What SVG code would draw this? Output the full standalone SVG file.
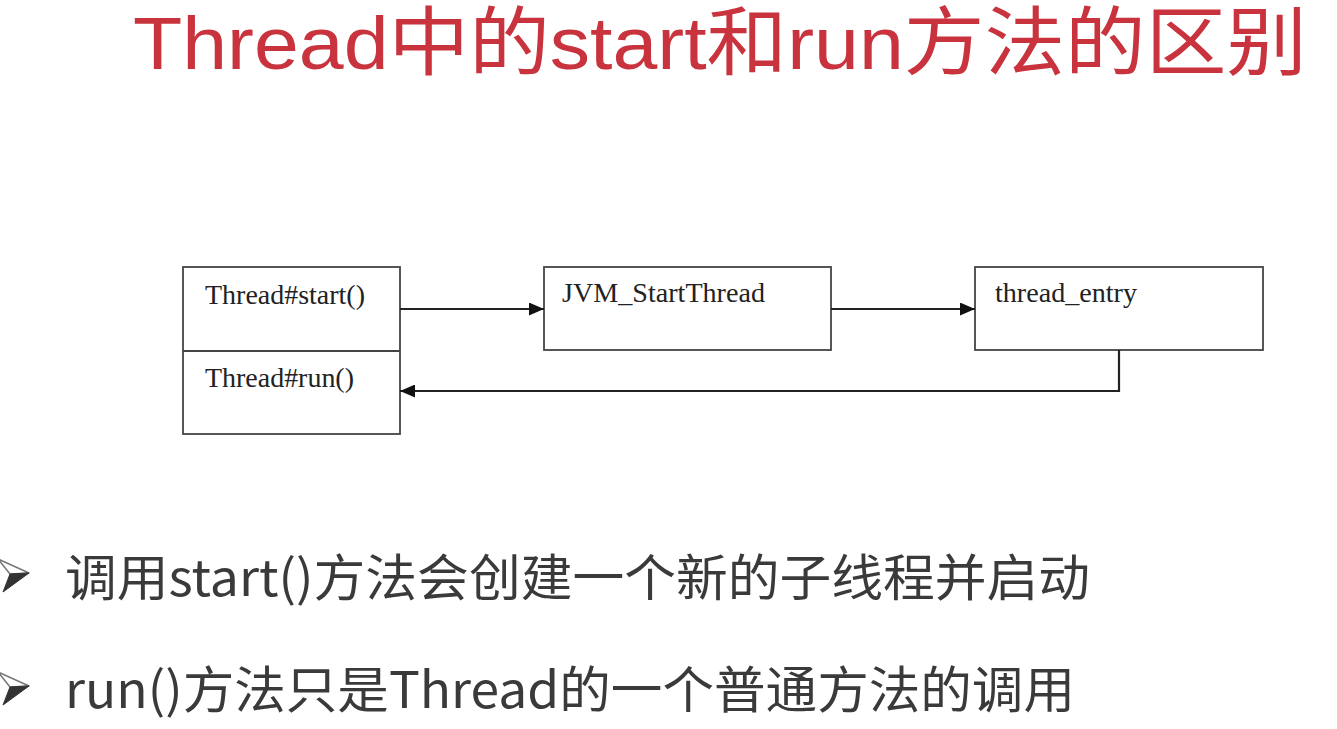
<svg xmlns="http://www.w3.org/2000/svg" width="1337" height="729" viewBox="0 0 1337 729">
<style>
.title{font-family:"Liberation Sans","Noto Sans CJK SC",sans-serif;font-size:75px;fill:#c8333d}
.box{fill:#fff;stroke:#444;stroke-width:1.8}
.lbl{font-family:"Liberation Serif","Noto Sans CJK SC",serif;font-size:27px;fill:#222}
.conn{fill:none;stroke:#222;stroke-width:2.2}
.bul{font-family:"Noto Sans CJK SC","Noto Sans",sans-serif;font-size:50px;fill:#3a3a3a}
.mkw{fill:#fff;stroke:#777;stroke-width:1.5;stroke-linejoin:round}
.mkd{fill:#333;stroke:#333;stroke-width:1}
</style>
<defs>
<marker id="ah" markerWidth="15" markerHeight="13" refX="15" refY="6.5" orient="auto" markerUnits="userSpaceOnUse">
<path d="M0,0 L15,6.5 L0,13 Z" fill="#111"/>
</marker>
<g id="bulletMark">
<polygon class="mkw" points="-2,-14 29,0 10,1"/>
<polygon class="mkd" points="10,1 29,0 3,19"/>
</g>
</defs>
<rect width="1337" height="729" fill="#fff"/>
<text class="title" x="133" y="69" textLength="1174" lengthAdjust="spacingAndGlyphs">Thread中的start和run方法的区别</text>
<g id="node-thread">
<rect class="box" x="183" y="267" width="217" height="167"/>
<line x1="183" y1="351" x2="400" y2="351" stroke="#444" stroke-width="1.8"/>
<text class="lbl" x="205" y="304" textLength="160" lengthAdjust="spacingAndGlyphs">Thread#start()</text>
<text class="lbl" x="205" y="387" textLength="149" lengthAdjust="spacingAndGlyphs">Thread#run()</text>
</g>
<g id="node-jvm">
<rect class="box" x="544" y="267" width="287" height="83"/>
<text class="lbl" x="562" y="302" textLength="203" lengthAdjust="spacingAndGlyphs">JVM_StartThread</text>
</g>
<g id="node-entry">
<rect class="box" x="975" y="267" width="288" height="83"/>
<text class="lbl" x="995" y="302" textLength="142" lengthAdjust="spacingAndGlyphs">thread_entry</text>
</g>
<g id="connectors">
<line class="conn" x1="400" y1="309" x2="544" y2="309" marker-end="url(#ah)"/>
<line class="conn" x1="831" y1="309" x2="975" y2="309" marker-end="url(#ah)"/>
<polyline class="conn" points="1119,350 1119,391 400,391" marker-end="url(#ah)"/>
</g>
<g id="bullets">
<use href="#bulletMark" x="0" y="573"/>
<text class="bul" x="65" y="596" textLength="1025" lengthAdjust="spacingAndGlyphs">调用start()方法会创建一个新的子线程并启动</text>
<use href="#bulletMark" x="0" y="686"/>
<text class="bul" x="65" y="708" textLength="1010" lengthAdjust="spacingAndGlyphs">run()方法只是Thread的一个普通方法的调用</text>
</g>
</svg>
